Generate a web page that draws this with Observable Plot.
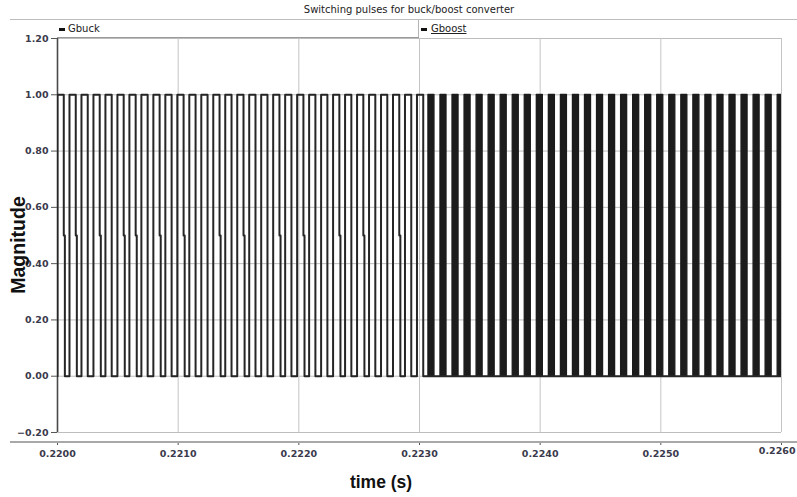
<!DOCTYPE html>
<html>
<head>
<meta charset="utf-8">
<script src="https://cdn.jsdelivr.net/npm/d3@7"></script>
<script src="https://cdn.jsdelivr.net/npm/@observablehq/plot@0.6"></script>
<style>
  html, body { margin: 0; padding: 0; background: #fff; }
  #wrap { position: relative; width: 797px; height: 497px; overflow: hidden; font-family: "DejaVu Sans", sans-serif; }
  #chart { position: absolute; left: 0; top: 0; }
  .abs { position: absolute; white-space: nowrap; }
</style>
</head>
<body>
<div id="wrap">
  <div id="chart"></div>
  <div class="abs" style="left:0;top:4px;width:818px;text-align:center;font-size:10px;color:#222;">Switching pulses for buck/boost converter</div>
  <div class="abs" style="left:10px;top:19px;width:787px;height:0;border-top:1.5px solid #bdbdbd;"></div>
  <div class="abs" style="left:418px;top:20px;width:0;height:18px;border-left:1px solid #b5b5b5;"></div>
  <div class="abs" style="left:57px;top:37px;width:362px;height:0;border-top:1.5px solid #9a9a9a;"></div>
  <div class="abs" style="left:59px;top:28px;width:6px;height:3px;background:#111;"></div>
  <div class="abs" style="left:68px;top:23px;font-size:10px;color:#222;">Gbuck</div>
  <div class="abs" style="left:421px;top:28px;width:6px;height:3px;background:#111;"></div>
  <div class="abs" style="left:431px;top:23px;font-size:10px;color:#222;text-decoration:underline;">Gboost</div>
  <div class="abs" style="left:10px;top:441px;width:787px;height:0;border-top:2px solid #a8a8a8;"></div>
  <div class="abs" style="left:0;top:472px;width:762px;text-align:center;font-family:'Liberation Sans',Arial,sans-serif;font-weight:bold;font-size:17.5px;color:#111;">time (s)</div>
  <div class="abs" style="left:18px;top:245px;transform:translate(-50%,-50%) rotate(-90deg);font-family:'Liberation Sans',Arial,sans-serif;font-weight:bold;font-size:19.5px;color:#111;">Magnitude</div>
</div>
<script>
// ---- data ----
const xTicks = [0.2200, 0.2210, 0.2220, 0.2230, 0.2240, 0.2250, 0.2260];
const yTicks = [-0.2, 0.0, 0.2, 0.4, 0.6, 0.8, 1.0, 1.2];

// Gbuck pulse edges (s)
const buckRise = [0.2200000, 0.2200993, 0.2201986, 0.2202979, 0.2203972, 0.2204965, 0.2205958, 0.2206951, 0.2207944, 0.2208937,
                  0.2209930, 0.2210923, 0.2211916, 0.2212909, 0.2213902, 0.2214895, 0.2215888, 0.2216881, 0.2217874, 0.2218867,
                  0.2219860, 0.2220853, 0.2221846, 0.2222839, 0.2223832, 0.2224825, 0.2225818, 0.2226811, 0.2227804, 0.2228797,
                  0.2229790];
const buckFall = [0.2200520, 0.2201513, 0.2202506, 0.2203499, 0.2204492, 0.2205485, 0.2206478, 0.2207471, 0.2208464, 0.2209457,
                  0.2210450, 0.2211443, 0.2212436, 0.2213429, 0.2214422, 0.2215415, 0.2216408, 0.2217401, 0.2218394, 0.2219387,
                  0.2220380, 0.2221373, 0.2222366, 0.2223359, 0.2224352, 0.2225345, 0.2226338, 0.2227331, 0.2228324, 0.2229317,
                  0.2230310];
// falling edges of Gbuck that show an intermediate 0.5 sample, and where that sample ends
const buckHalfIdx = [0, 1, 3, 5, 6, 8, 10, 13, 15, 18, 20, 23, 25, 28];
const buckHalfEnd = [0.2200610, 0.2201603, 0.2203589, 0.2205575, 0.2206568, 0.2208554, 0.2210540, 0.2213519, 0.2215505, 0.2218484,
                     0.2220470, 0.2223449, 0.2225435, 0.2228414];
const buckHigh = 1.0, buckLow = 0.0, halfLevel = 0.5;

// Gboost pulse edges (s)
const boostRise = [0.2230740, 0.2231738, 0.2232736, 0.2233734, 0.2234732, 0.2235730, 0.2236728, 0.2237726, 0.2238724, 0.2239722,
                   0.2240720, 0.2241718, 0.2242716, 0.2243714, 0.2244712, 0.2245710, 0.2246708, 0.2247706, 0.2248704, 0.2249702,
                   0.2250700, 0.2251698, 0.2252696, 0.2253694, 0.2254692, 0.2255690, 0.2256688, 0.2257686, 0.2258684, 0.2259682];
const boostFall = [0.2231240, 0.2232238, 0.2233236, 0.2234234, 0.2235232, 0.2236230, 0.2237228, 0.2238226, 0.2239224, 0.2240222,
                   0.2241220, 0.2242218, 0.2243216, 0.2244214, 0.2245212, 0.2246210, 0.2247208, 0.2248206, 0.2249204, 0.2250202,
                   0.2251200, 0.2252198, 0.2253196, 0.2254194, 0.2255192, 0.2256190, 0.2257188, 0.2258186, 0.2259184, 0.2260182];
const boostHigh = 1.0;

// ---- build traces ----
const buckPts = [{t: xTicks[0], v: buckLow}];
buckRise.forEach((r, i) => {
  buckPts.push({t: r, v: buckLow}, {t: r, v: buckHigh}, {t: buckFall[i], v: buckHigh});
  const h = buckHalfIdx.indexOf(i);
  if (h >= 0) {
    buckPts.push({t: buckFall[i], v: halfLevel}, {t: buckHalfEnd[h], v: halfLevel}, {t: buckHalfEnd[h], v: buckLow});
  } else {
    buckPts.push({t: buckFall[i], v: buckLow});
  }
});
buckPts.push({t: xTicks[xTicks.length - 1], v: buckLow});

const boostBars = boostRise.map((r, i) => ({x1: r, x2: boostFall[i], y: boostHigh}));
const lastTick = xTicks[xTicks.length - 1];
const fmtX = d3.format(".4f");

const plot = Plot.plot({
  width: 797,
  height: 497,
  marginTop: 38,
  marginLeft: 57,
  marginRight: 16,
  marginBottom: 55,
  insetBottom: 10,
  x: {domain: [xTicks[0], lastTick]},
  y: {domain: [yTicks[0], yTicks[yTicks.length - 1]]},
  style: {fontFamily: "DejaVu Sans, sans-serif", background: "transparent"},
  marks: [
    Plot.ruleY(yTicks, {x1: xTicks[0], x2: lastTick, stroke: "#bdbdbd", strokeWidth: 1}),
    Plot.ruleX(xTicks, {y1: yTicks[0], y2: yTicks[yTicks.length - 1], stroke: "#c4c4c4", strokeWidth: 1}),
    Plot.ruleX([xTicks[0]], {y1: yTicks[0], y2: yTicks[yTicks.length - 1], stroke: "#4a4a4a", strokeWidth: 1.6}),
    Plot.rectY(boostBars, {x1: "x1", x2: "x2", y1: 0, y2: "y", fill: "#1c1c1c", stroke: "#1c1c1c", strokeWidth: 1.3, strokeLinejoin: "round", clip: true}),
    Plot.line(buckPts, {x: "t", y: "v", stroke: "#262626", strokeWidth: 2, strokeLinejoin: "round", clip: true}),
    Plot.axisY({ticks: yTicks, tickFormat: d3.format(".2f"), tickSize: 6, tickPadding: 3, fontSize: 9.5, fontWeight: "bold", fill: "#3a3a4c", stroke: "#555", label: null}),
    Plot.axisX({ticks: xTicks, tickFormat: d => d === lastTick ? "" : fmtX(d), tickSize: 3, tickPadding: 5, fontSize: 9.5, fontWeight: "bold", fill: "#3a3a4c", stroke: "#555", label: null}),
    Plot.text([lastTick], {x: d => d, text: d => fmtX(d), frameAnchor: "bottom", dy: 11, dx: 14, textAnchor: "end", fontSize: 9.5, fontWeight: "bold", fill: "#3a3a4c"})
  ]
});
document.getElementById("chart").appendChild(plot);
</script>
</body>
</html>
